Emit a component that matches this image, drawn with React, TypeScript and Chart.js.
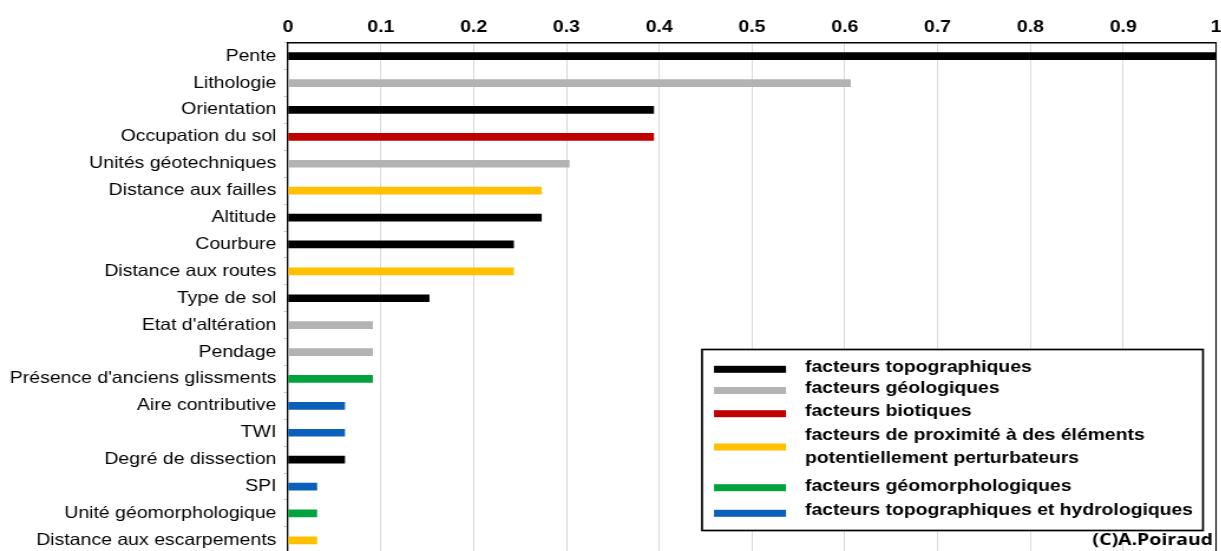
import React, { useEffect, useRef } from 'react';
import { Chart, registerables } from 'chart.js';

Chart.register(...registerables);

// ---- data ----
const categories: string[] = [
  'Pente',
  'Lithologie',
  'Orientation',
  'Occupation du sol',
  'Unités géotechniques',
  'Distance aux failles',
  'Altitude',
  'Courbure',
  'Distance aux routes',
  'Type de sol',
  "Etat d'altération",
  'Pendage',
  "Présence d'anciens glissments",
  'Aire contributive',
  'TWI',
  'Degré de dissection',
  'SPI',
  'Unité géomorphologique',
  'Distance aux escarpements',
];

const values: number[] = [
  1.0, 0.606, 0.394, 0.394, 0.303, 0.273, 0.273, 0.243, 0.243, 0.152,
  0.091, 0.091, 0.091, 0.061, 0.061, 0.061, 0.031, 0.031, 0.031,
];

// index into groupNames / groupColors for each category
const categoryGroup: number[] = [0, 1, 0, 2, 1, 3, 0, 0, 3, 0, 1, 1, 4, 5, 5, 0, 5, 4, 3];

const groupNames: string[][] = [
  ['facteurs topographiques'],
  ['facteurs géologiques'],
  ['facteurs biotiques'],
  ['facteurs de proximité à des éléments', 'potentiellement perturbateurs'],
  ['facteurs géomorphologiques'],
  ['facteurs topographiques et hydrologiques'],
];

const groupColors: string[] = ['#000000', '#b3b3b3', '#c00000', '#ffc000', '#00a33e', '#0a60bb'];

const xTickValues: number[] = [0, 0.1, 0.2, 0.3, 0.4, 0.5, 0.6, 0.7, 0.8, 0.9, 1];
const xTickLabels: string[] = ['0', '0.1', '0.2', '0.3', '0.4', '0.5', '0.6', '0.7', '0.8', '0.9', '1'];

const creditText = '(C)A.Poiraud';

// ---- layout (final picture is stretched horizontally by SX) ----
const PAGE_W = 1221;
const PAGE_H = 551;
const SX = 1.18;
const CANVAS_W = Math.round(PAGE_W / SX);
const CANVAS_H = 560;
const FONT = '"Liberation Sans", Arial, sans-serif';

const legendPlugin = {
  id: 'customLegendFrame',
  afterDraw(chart: any) {
    const ctx = chart.ctx;
    const ca = chart.chartArea;
    ctx.save();
    // right frame line of plot area
    ctx.strokeStyle = '#000000';
    ctx.lineWidth = 1.1;
    ctx.beginPath();
    ctx.moveTo(ca.right, ca.top);
    ctx.lineTo(ca.right, chart.height);
    ctx.stroke();

    // legend box (positions given in final picture pixels, converted)
    const L = 702 / SX, R = 1203 / SX, T = 349.5, B = 530.5;
    ctx.fillStyle = '#ffffff';
    ctx.fillRect(L, T, R - L, B - T);
    ctx.strokeStyle = '#000000';
    ctx.lineWidth = 1.7;
    ctx.strokeRect(L, T, R - L, B - T);

    const swatchY = [369.3, 390.5, 413.7, 447, 487.7, 513.3];
    const textY = [[367], [388], [411], [435, 458.5], [486], [510.5]];
    const sx0 = 714 / SX, sx1 = 786 / SX, tx = 805 / SX;
    ctx.font = 'bold 16.4px ' + FONT;
    ctx.textAlign = 'left';
    ctx.textBaseline = 'middle';
    groupNames.forEach((lines, i) => {
      ctx.fillStyle = groupColors[i];
      ctx.fillRect(sx0, swatchY[i] - 3.5, sx1 - sx0, 7);
      ctx.fillStyle = '#000000';
      lines.forEach((ln, j) => ctx.fillText(ln, tx, textY[i][j]));
    });

    // credit
    ctx.font = 'bold 16.5px "Open Sans", "DejaVu Sans", sans-serif';
    ctx.textAlign = 'right';
    ctx.textBaseline = 'middle';
    ctx.fillStyle = '#000000';
    ctx.fillText(creditText, 1213 / SX, 540.5);
    ctx.restore();
  },
};

export default function App() {
  const ref = useRef<HTMLCanvasElement | null>(null);

  useEffect(() => {
    document.body.style.margin = '0';
    document.body.style.overflow = 'hidden';
    const canvas = ref.current;
    if (!canvas) return;
    const chart = new Chart(canvas, {
      type: 'bar',
      data: {
        labels: categories,
        datasets: [
          {
            data: values,
            backgroundColor: categoryGroup.map((g) => groupColors[g]),
            borderWidth: 0,
            barThickness: 7,
          },
        ],
      },
      plugins: [legendPlugin],
      options: {
        indexAxis: 'y',
        responsive: false,
        animation: false,
        devicePixelRatio: 1,
        layout: { padding: { left: 0, top: 0, right: CANVAS_W - 1216 / SX, bottom: CANVAS_H - 553.8 } },
        plugins: { legend: { display: false }, tooltip: { enabled: false } },
        scales: {
          x: {
            type: 'linear',
            position: 'top',
            min: 0,
            max: 1,
            afterBuildTicks: (scale: any) => {
              scale.ticks = xTickValues.map((v) => ({ value: v }));
            },
            afterFit: (scale: any) => {
              scale.height = 42.7;
              scale.paddingLeft = 0;
              scale.paddingRight = 0;
              scale.paddingTop = 0;
              scale.paddingBottom = 0;
            },
            ticks: {
              autoSkip: false,
              maxRotation: 0,
              padding: 5.5,
              color: '#000000',
              font: { family: FONT, size: 16.5, weight: 'bold' },
              callback: (_v: any, i: number) => xTickLabels[i],
            },
            grid: { color: '#d9d9d9', lineWidth: 1, drawTicks: false },
            border: { color: '#000000', width: 1.5 },
          },
          y: {
            type: 'category',
            afterFit: (scale: any) => {
              scale.width = 288 / SX;
              scale.paddingLeft = 0;
              scale.paddingRight = 0;
              scale.paddingTop = 0;
              scale.paddingBottom = 0;
            },
            ticks: {
              autoSkip: false,
              padding: 6.3,
              color: '#000000',
              font: { family: FONT, size: 16.5 },
            },
            grid: { drawOnChartArea: false, drawTicks: true, tickLength: 3.5, color: '#c8c8c8', offset: true },
            border: { color: '#000000', width: 1.2 },
          },
        },
      } as any,
    });
    return () => chart.destroy();
  }, []);

  return (
    <div
      style={{
        position: 'fixed',
        left: 0,
        top: 0,
        width: PAGE_W,
        height: PAGE_H,
        overflow: 'hidden',
        background: '#ffffff',
      }}
    >
      <div
        style={{
          width: CANVAS_W,
          height: CANVAS_H,
          transform: `scaleX(${SX})`,
          transformOrigin: '0 0',
        }}
      >
        <canvas ref={ref} width={CANVAS_W} height={CANVAS_H} style={{ width: CANVAS_W, height: CANVAS_H, display: 'block' }} />
      </div>
    </div>
  );
}
